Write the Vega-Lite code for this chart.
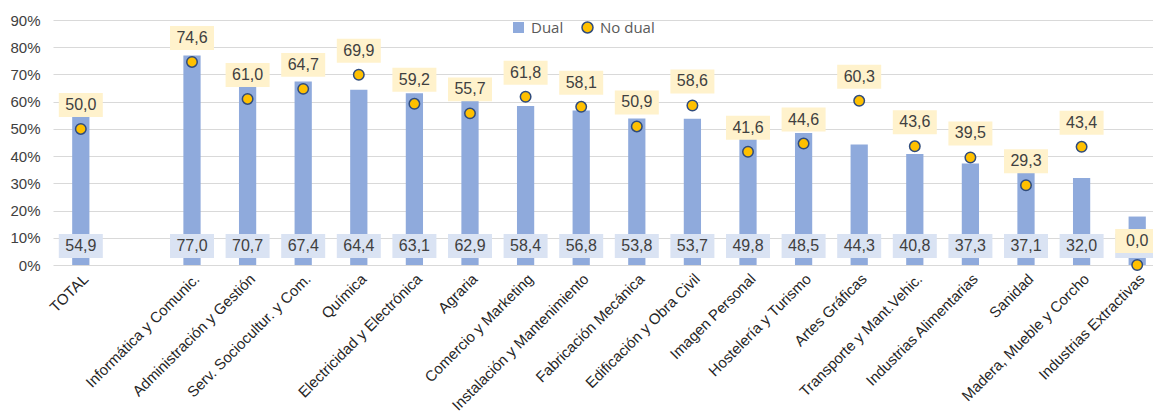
{
  "$schema": "https://vega.github.io/schema/vega-lite/v6.json",
  "width": 1097,
  "height": 245,
  "autosize": "none",
  "padding": {"left": 53, "top": 20, "right": 3, "bottom": 149},
  "config": {
    "view": {"stroke": null},
    "font": "Liberation Sans",
    "locale": {"number": {"decimal": ",", "thousands": ".", "grouping": [3], "currency": ["", " €"]}},
    "axisY": {
      "labelOverlap": false,
      "grid": true,
      "gridColor": "#D9D9D9",
      "gridWidth": 1.2,
      "domain": false,
      "ticks": false,
      "labelFontSize": 15,
      "labelColor": "#404040",
      "labelPadding": 13
    }
  },
  "data": {
    "values": [
      {"cat": "TOTAL", "Dual": 54.9, "NoDual": 50.0},
      {"cat": "Informática y Comunic.", "Dual": 77.0, "NoDual": 74.6},
      {"cat": "Administración y Gestión", "Dual": 70.7, "NoDual": 61.0},
      {"cat": "Serv. Sociocultur. y Com.", "Dual": 67.4, "NoDual": 64.7},
      {"cat": "Química", "Dual": 64.4, "NoDual": 69.9},
      {"cat": "Electricidad y Electrónica", "Dual": 63.1, "NoDual": 59.2},
      {"cat": "Agraria", "Dual": 62.9, "NoDual": 55.7},
      {"cat": "Comercio y Marketing", "Dual": 58.4, "NoDual": 61.8},
      {"cat": "Instalación y Mantenimiento", "Dual": 56.8, "NoDual": 58.1},
      {"cat": "Fabricación Mecánica", "Dual": 53.8, "NoDual": 50.9},
      {"cat": "Edificación y Obra Civil", "Dual": 53.7, "NoDual": 58.6},
      {"cat": "Imagen Personal", "Dual": 49.8, "NoDual": 41.6},
      {"cat": "Hostelería y Turismo", "Dual": 48.5, "NoDual": 44.6},
      {"cat": "Artes Gráficas", "Dual": 44.3, "NoDual": 60.3},
      {"cat": "Transporte y Mant.Vehic.", "Dual": 40.8, "NoDual": 43.6},
      {"cat": "Industrias Alimentarias", "Dual": 37.3, "NoDual": 39.5},
      {"cat": "Sanidad", "Dual": 37.1, "NoDual": 29.3},
      {"cat": "Madera, Mueble y Corcho", "Dual": 32.0, "NoDual": 43.4},
      {"cat": "Industrias Extractivas", "Dual": 17.8, "NoDual": 0.0}
    ]
  },
  "encoding": {
    "x": {
      "field": "cat",
      "type": "nominal",
      "sort": null,
      "scale": {
        "domain": ["TOTAL", " ", "Informática y Comunic.", "Administración y Gestión", "Serv. Sociocultur. y Com.", "Química", "Electricidad y Electrónica", "Agraria", "Comercio y Marketing", "Instalación y Mantenimiento", "Fabricación Mecánica", "Edificación y Obra Civil", "Imagen Personal", "Hostelería y Turismo", "Artes Gráficas", "Transporte y Mant.Vehic.", "Industrias Alimentarias", "Sanidad", "Madera, Mueble y Corcho", "Industrias Extractivas"],
        "range": [0, 1112],
        "paddingInner": 0.69,
        "paddingOuter": 0.345
      },
      "axis": {
        "title": null,
        "labelAngle": -45,
        "labelFontSize": 15,
        "labelColor": "#262626",
        "ticks": false,
        "domain": false,
        "labelPadding": 6,
        "labelDx": -5,
        "labelLimit": 300
      }
    }
  },
  "layer": [
    {
      "mark": {"type": "bar"},
      "encoding": {
        "y": {
          "field": "Dual",
          "type": "quantitative",
          "title": null,
          "scale": {"domain": [0, 90], "nice": false},
          "axis": {"values": [0, 10, 20, 30, 40, 50, 60, 70, 80, 90], "labelExpr": "datum.value + '%'"}
        },
        "color": {
          "datum": "Dual",
          "scale": {"domain": ["Dual", "No dual"], "range": ["#8FAADC", "#FFC000"]},
          "legend": {
            "orient": "none",
            "legendX": 458,
            "legendY": 0,
            "direction": "horizontal",
            "title": null,
            "labelFont": "Open Sans",
            "labelFontSize": 15,
            "labelColor": "#595959",
            "symbolSize": 121,
            "labelOffset": 5,
            "columnPadding": 15,
            "padding": 0,
            "symbolStrokeWidth": 1.5,
            "encode": {
              "symbols": {
                "update": {
                  "shape": {"signal": "datum.value === 'Dual' ? 'square' : 'circle'"},
                  "stroke": {"signal": "datum.value === 'Dual' ? 'transparent' : '#2F4B7C'"},
                  "opacity": {"value": 1}
                }
              }
            }
          }
        }
      }
    },
    {
      "mark": {"type": "point", "shape": "M-1,-0.545H1V0.545H-1Z", "size": 1936, "filled": true, "color": "#DAE3F3", "opacity": 1, "yOffset": -19},
      "encoding": {"y": {"datum": 0, "type": "quantitative", "title": null, "axis": {"values": [0, 10, 20, 30, 40, 50, 60, 70, 80, 90], "labelExpr": "datum.value + '%'"}}}
    },
    {
      "mark": {"type": "text", "fontSize": 16, "color": "#404040", "baseline": "middle", "align": "center", "yOffset": -19},
      "encoding": {
        "y": {"datum": 0, "type": "quantitative", "title": null, "axis": {"values": [0, 10, 20, 30, 40, 50, 60, 70, 80, 90], "labelExpr": "datum.value + '%'"}},
        "text": {"field": "Dual", "type": "quantitative", "format": ".1f"}
      }
    },
    {
      "mark": {"type": "point", "shape": "M-1,-0.545H1V0.545H-1Z", "size": 1936, "filled": true, "color": "#FFF2CC", "opacity": 1, "yOffset": -24},
      "encoding": {"y": {"field": "NoDual", "type": "quantitative", "title": null, "axis": {"values": [0, 10, 20, 30, 40, 50, 60, 70, 80, 90], "labelExpr": "datum.value + '%'"}}}
    },
    {
      "mark": {"type": "text", "fontSize": 16, "color": "#404040", "baseline": "middle", "align": "center", "yOffset": -24},
      "encoding": {
        "y": {"field": "NoDual", "type": "quantitative", "title": null, "axis": {"values": [0, 10, 20, 30, 40, 50, 60, 70, 80, 90], "labelExpr": "datum.value + '%'"}},
        "text": {"field": "NoDual", "type": "quantitative", "format": ".1f"}
      }
    },
    {
      "mark": {"type": "point", "filled": true, "size": 110, "stroke": "#2F4B7C", "strokeWidth": 1.5, "opacity": 1},
      "encoding": {
        "y": {"field": "NoDual", "type": "quantitative", "title": null, "axis": {"values": [0, 10, 20, 30, 40, 50, 60, 70, 80, 90], "labelExpr": "datum.value + '%'"}},
        "color": {"datum": "No dual"}
      }
    }
  ]
}
